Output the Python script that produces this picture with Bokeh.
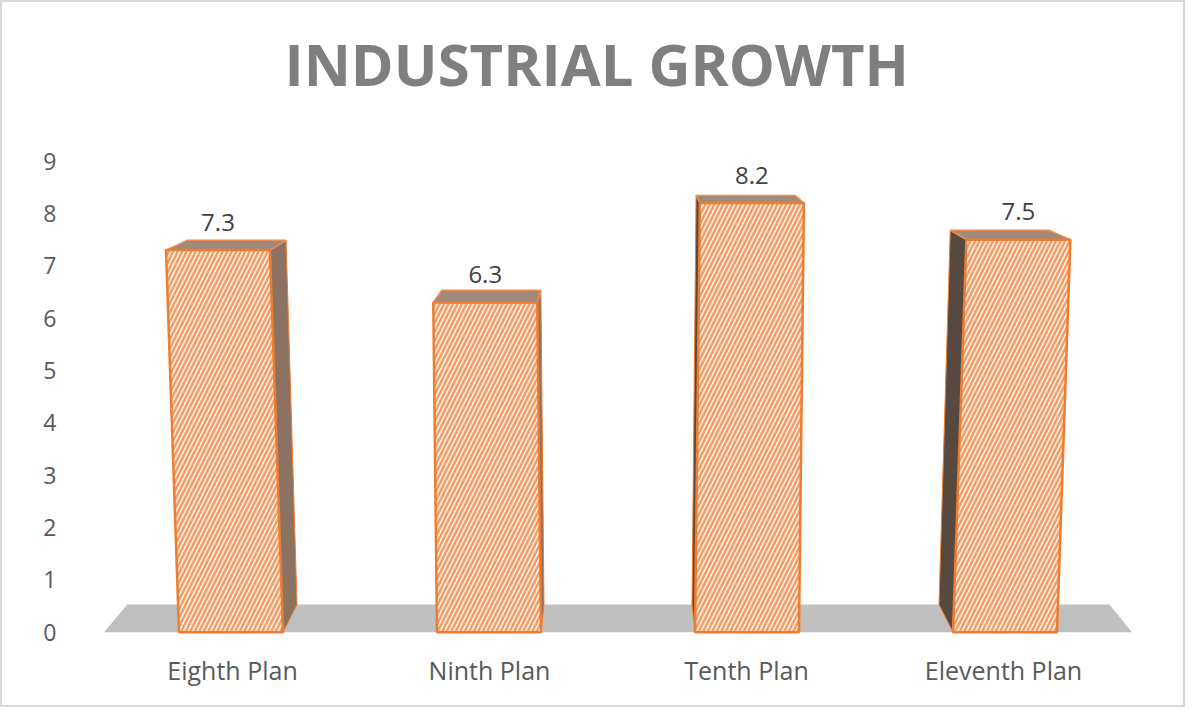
from bokeh.plotting import figure
from bokeh.models import ColumnDataSource, FixedTicker, Range1d
from bokeh.core.properties import value
from bokeh.embed import file_html
from bokeh.resources import INLINE

# ---- data ----
categories = ["Eighth Plan", "Ninth Plan", "Tenth Plan", "Eleventh Plan"]
growth = [7.3, 6.3, 8.2, 7.5]
y_ticks = [0, 1, 2, 3, 4, 5, 6, 7, 8, 9]
title_text = "INDUSTRIAL GROWTH"

# ---- perspective styling (pixel-ish offsets expressed in x data units) ----
PX = 1 / 257.0
FRONT_HW = 52 * PX
BACK_HW = 49.5 * PX
DEPTH = 0.53


def front_cx(i, t):
    s = i - 1.5
    return i + s * (1 + 1.19 * t) * PX


def back_cx(i, t):
    s = i - 1.5
    return i + s * (-10 + 1.0 * t) * PX


def back_y(t):
    return 0.953 * t + DEPTH


front_xs, front_ys = [], []
top_xs, top_ys = [], []
sideR_xs, sideR_ys = [], []
sideL_xs, sideL_ys = [], []
lab_x, lab_y, lab_t = [], [], []
for i, v in enumerate(growth):
    fl0, fr0 = front_cx(i, 0) - FRONT_HW, front_cx(i, 0) + FRONT_HW
    flv, frv = front_cx(i, v) - FRONT_HW, front_cx(i, v) + FRONT_HW
    bl0, br0 = back_cx(i, 0) - BACK_HW, back_cx(i, 0) + BACK_HW
    blv, brv = back_cx(i, v) - BACK_HW, back_cx(i, v) + BACK_HW
    front_xs.append([fl0, fr0, frv, flv])
    front_ys.append([0, 0, v, v])
    top_xs.append([flv, frv, brv, blv])
    top_ys.append([v, v, back_y(v), back_y(v)])
    if i - 1.5 < 0:
        sideR_xs.append([fr0, frv, brv, br0])
        sideR_ys.append([0, v, back_y(v), back_y(0)])
    else:
        sideL_xs.append([fl0, flv, blv, bl0])
        sideL_ys.append([0, v, back_y(v), back_y(0)])
    lab_x.append(front_cx(i, v))
    lab_y.append(v + 0.53)
    lab_t.append(f"{v:.1f}")

n = len(categories)
floor_x = [-0.5, n - 0.5, n - 0.5 - 0.088, -0.5 + 0.091]
floor_y = [0, 0, DEPTH, DEPTH]

p = figure(width=1185, height=707, output_backend="svg", toolbar_location=None,
           x_range=Range1d(-0.5837, 3.6576), y_range=Range1d(-0.1, 9.738),
           min_border_left=80, min_border_right=15, min_border_top=118,
           min_border_bottom=72)
p.styles = {"border": "2px solid #d9d9d9"}
p.background_fill_color = "white"
p.border_fill_color = "white"
p.outline_line_color = None
p.xgrid.grid_line_color = None
p.ygrid.grid_line_color = None

p.title.text = title_text
p.title.text_font = "Open Sans"
p.title.text_font_style = "bold"
p.title.text_font_size = "58px"
p.title.text_color = "#7f7f7f"
p.title.align = "left"
p.title.offset = 202
p.title.vertical_align = "bottom"
p.title.standoff = 39

# floor
p.patch(floor_x, floor_y, fill_color="#c0c0c0", line_color=None)

# side faces
p.patches(xs="xs", ys="ys", source=ColumnDataSource(dict(xs=sideR_xs, ys=sideR_ys)),
          fill_color="#8c7262", line_color="#ed7d31", line_width=1)
p.patches(xs="xs", ys="ys", source=ColumnDataSource(dict(xs=sideL_xs, ys=sideL_ys)),
          fill_color="#574840", line_color="#ed7d31", line_width=1)
# top faces
p.patches(xs="xs", ys="ys", source=ColumnDataSource(dict(xs=top_xs, ys=top_ys)),
          fill_color="#a08a7b", line_color="#f08c4f", line_width=1.5)
# front faces with hatch
p.patches(xs="xs", ys="ys", source=ColumnDataSource(dict(xs=front_xs, ys=front_ys)),
          fill_color="#fff1e6", line_color="#ed7d31", line_width=2.5,
          hatch_pattern="right_diagonal_line", hatch_color="#f49d68",
          hatch_scale=9, hatch_weight=2.5)

# value labels
p.text(x="x", y="y", text="t", source=ColumnDataSource(dict(x=lab_x, y=lab_y, t=lab_t)),
       text_align="center", text_baseline="middle", text_font=value("Open Sans"),
       text_font_size="24px", text_color="#404040")

# axes
p.xaxis.ticker = FixedTicker(ticks=list(range(n)))
p.xaxis.major_label_overrides = {i: c for i, c in enumerate(categories)}
p.yaxis.ticker = FixedTicker(ticks=y_ticks)
for ax in (p.xaxis, p.yaxis):
    ax.axis_line_color = None
    ax.major_tick_line_color = None
    ax.minor_tick_line_color = None
    ax.major_label_text_font = "Open Sans"
    ax.major_label_text_color = "#595959"
p.xaxis.major_label_text_font_size = "25px"
p.yaxis.major_label_text_font_size = "23px"
p.xaxis.major_label_standoff = 9
p.yaxis.major_label_standoff = 20

open("out.html", "w").write(file_html(p, INLINE))
